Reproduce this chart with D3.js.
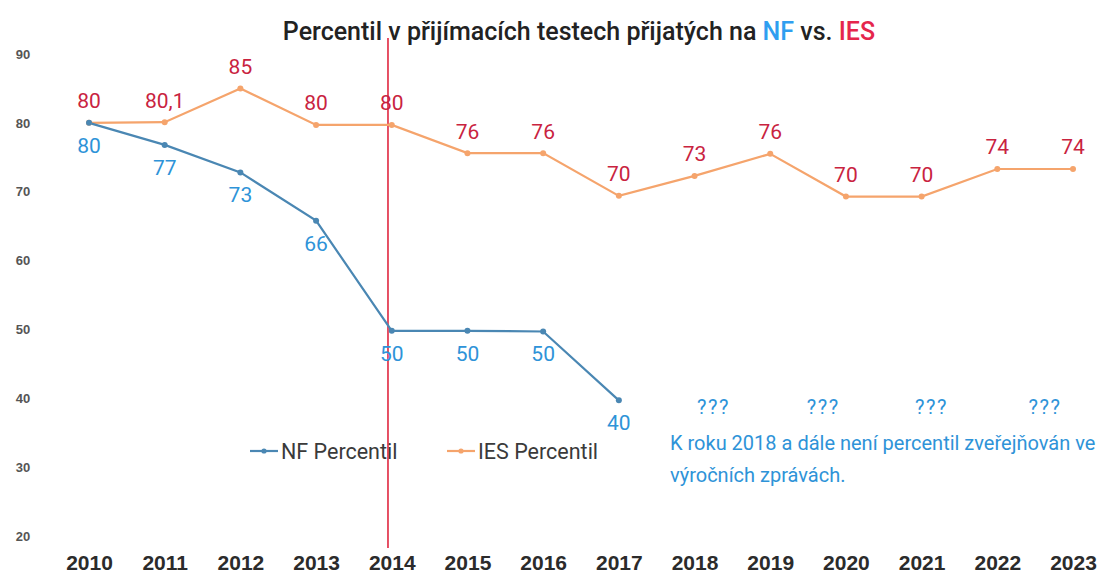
<!DOCTYPE html>
<html><head><meta charset="utf-8">
<script src="https://cdn.jsdelivr.net/npm/d3@7"></script>
<style>body{margin:0;background:#fff}svg{display:block}</style>
</head><body><svg id="c" width="1110" height="576"></svg>
<script>
const years = [2010,2011,2012,2013,2014,2015,2016,2017,2018,2019,2020,2021,2022,2023];
const iesValues = [80,80.1,85,79.7,79.7,75.6,75.6,69.4,72.3,75.5,69.3,69.3,73.3,73.3];
const iesLabels = ["80","80,1","85","80","80","76","76","70","73","76","70","70","74","74"];
const nfYears = [2010,2011,2012,2013,2014,2015,2016,2017];
const nfValues = [80,76.8,72.8,65.8,49.8,49.8,49.7,39.7];
const nfLabels = ["80","77","73","66","50","50","50","40"];
const yTicks = [20,30,40,50,60,70,80,90];
const unknownX = [2018.25,2019.7,2021.13,2022.63];
const markerYear = 2013.95;
const noteLines = ["K roku 2018 a dále není percentil zveřejňován ve","výročních zprávách."];

const svg = d3.select("#c");
const x = d3.scaleLinear().domain([2010,2023]).range([89,1073]);
const y = d3.scaleLinear().domain([20,90]).range([536,54]);
const NF = "#4a87b3", IES = "#f5a46c", NFT = "#2e93d8", IEST = "#c9233f";
const F = "Roboto, 'Liberation Sans', Arial, sans-serif";

// y axis (labels only)
const ya = d3.axisLeft(y).tickValues(yTicks).tickSize(0).tickPadding(0);
const gy = svg.append("g").attr("transform","translate(23,0)").call(ya);
gy.select(".domain").remove();
gy.selectAll("text").attr("font-family","'Liberation Sans', Arial, sans-serif").attr("font-weight","bold")
  .attr("font-size",13).attr("fill","#555").attr("text-anchor","middle");

// x axis (labels only)
const xa = d3.axisBottom(x).tickValues(years).tickFormat(d3.format("d")).tickSize(0).tickPadding(0);
const gx = svg.append("g").attr("transform","translate(0,563)").call(xa);
gx.select(".domain").remove();
gx.selectAll("text").attr("font-family","'Liberation Sans', Arial, sans-serif").attr("font-weight","bold")
  .attr("font-size",21).attr("fill","#2b2b2b").attr("dy","0.35em");

// red vertical marker
svg.append("line").attr("x1",x(markerYear)).attr("x2",x(markerYear)).attr("y1",38).attr("y2",548)
  .attr("stroke","#e0263f").attr("stroke-width",1.6);

const line = d3.line().x(d=>x(d[0])).y(d=>y(d[1]));
const iesData = years.map((yr,i)=>[yr,iesValues[i]]);
const nfData = nfYears.map((yr,i)=>[yr,nfValues[i]]);

svg.append("path").datum(iesData).attr("d",line).attr("fill","none").attr("stroke",IES).attr("stroke-width",2.2);
svg.append("path").datum(nfData).attr("d",line).attr("fill","none").attr("stroke",NF).attr("stroke-width",2.2);
svg.selectAll(".pi").data(iesData).join("circle").attr("cx",d=>x(d[0])).attr("cy",d=>y(d[1])).attr("r",3).attr("fill",IES);
svg.selectAll(".pn").data(nfData).join("circle").attr("cx",d=>x(d[0])).attr("cy",d=>y(d[1])).attr("r",3).attr("fill",NF);

// data labels
svg.selectAll(".li").data(iesData).join("text").attr("x",d=>x(d[0])).attr("y",d=>y(d[1])-14.5)
  .attr("text-anchor","middle").attr("font-family",F).attr("font-size",21).attr("fill",IEST)
  .text((d,i)=>iesLabels[i]);
svg.selectAll(".ln").data(nfData).join("text").attr("x",d=>x(d[0])).attr("y",d=>y(d[1])+30)
  .attr("text-anchor","middle").attr("font-family",F).attr("font-size",21).attr("fill",NFT)
  .text((d,i)=>nfLabels[i]);

// unknown markers
svg.selectAll(".uq").data(unknownX).join("text").attr("x",d=>x(d)).attr("y",414)
  .attr("text-anchor","middle").attr("font-family",F).attr("font-size",20).attr("letter-spacing",1.5)
  .attr("fill",NFT).text("???");

// note
svg.selectAll(".note").data(noteLines).join("text").attr("x",670).attr("y",(d,i)=>450+i*32)
  .attr("font-family",F).attr("font-size",20).attr("fill",NFT).text(d=>d);

// legend
const leg = [{t:"NF Percentil",c:NF,x:250},{t:"IES Percentil",c:IES,x:447}];
const lg = svg.selectAll(".lg").data(leg).join("g").attr("transform",d=>`translate(${d.x},451)`);
lg.append("line").attr("x1",0).attr("x2",28).attr("stroke",d=>d.c).attr("stroke-width",2.2);
lg.append("circle").attr("cx",14).attr("r",2.6).attr("fill",d=>d.c);
lg.append("text").attr("x",31).attr("y",7.5).attr("font-family",F).attr("font-size",21.5).attr("fill","#3a3a3a").text(d=>d.t);

// title
const title = svg.append("text").attr("x",579).attr("y",40).attr("text-anchor","middle")
  .attr("font-family",F).attr("font-weight",500).attr("font-size",25).attr("fill","#222");
title.append("tspan").text("Percentil v přijímacích testech přijatých na ");
title.append("tspan").attr("fill","#2f9ef0").text("NF");
title.append("tspan").text(" vs. ");
title.append("tspan").attr("fill","#e5264c").text("IES");
</script></body></html>
